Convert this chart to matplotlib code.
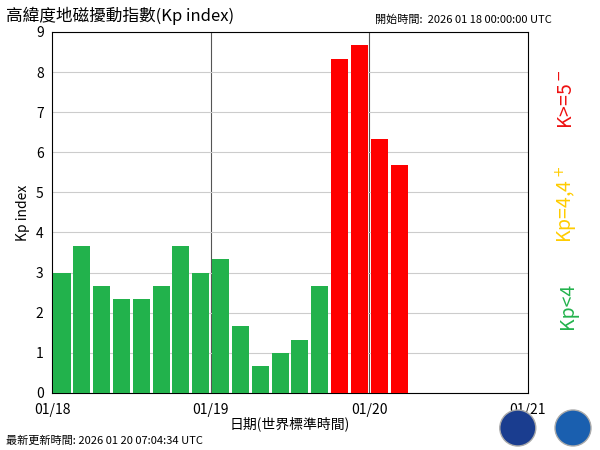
import matplotlib
matplotlib.use("Agg")
import matplotlib.pyplot as plt
from matplotlib.patches import Circle

plt.rcParams['font.family'] = ['Noto Sans CJK TC', 'DejaVu Sans']

kp = [3.0, 3.67, 2.67, 2.33, 2.33, 2.67, 3.67, 3.0,
      3.33, 1.67, 0.67, 1.0, 1.33, 2.67, 8.33, 8.67,
      6.33, 5.67]
day_labels = ['01/18', '01/19', '01/20', '01/21']

def col(v):
    if v >= 4.67:
        return '#ff0000'
    return '#22b24c'

fig = plt.figure(figsize=(6, 4.5), dpi=100)
ax = fig.add_axes([0.0867, 0.127, 0.7933, 0.802])
x = [i * 0.125 + 0.0625 for i in range(len(kp))]
ax.bar(x, kp, width=0.108, color=[col(v) for v in kp], zorder=3)
ax.set_xlim(0, 3)
ax.set_ylim(0, 9)
ax.set_yticks(range(10))
ax.set_xticks([0, 1, 2, 3])
ax.set_xticklabels(day_labels)
ax.tick_params(labelsize=10, length=0)
ax.tick_params(axis='x', pad=7)
ax.tick_params(axis='y', pad=6)
ax.grid(axis='y', color='#cccccc', lw=0.8, zorder=0)
for d in [1, 2]:
    ax.axvline(d, color='#555555', lw=0.8, zorder=1)
ax.set_ylabel('Kp index', fontsize=10)
ax.set_xlabel('日期(世界標準時間)', fontsize=10, labelpad=0)

fig.text(0.01, 0.985, '高緯度地磁擾動指數(Kp index)', fontsize=12, va='top')
fig.text(0.625, 0.968, '開始時間:  2026 01 18 00:00:00 UTC', fontsize=8, va='top')
fig.text(0.01, 0.01, '最新更新時間: 2026 01 20 07:04:34 UTC', fontsize=8, va='bottom')

fig.text(0.945, 0.32, 'Kp<4', color='#22b24c', fontsize=14, rotation=90, ha='center', va='center')
fig.text(0.945, 0.545, 'Kp=4,4$^+$', color='#ffcc00', fontsize=14, rotation=90, ha='center', va='center')
fig.text(0.945, 0.78, 'K>=5$^-$', color='#ee1111', fontsize=14, rotation=90, ha='center', va='center')

for cx, c in [(0.863, '#1a3d8f'), (0.955, '#1a5faf')]:
    fig.patches.append(Circle((cx * 600, 450 - 428), 18, transform=None,
                              facecolor=c, edgecolor='#aaaaaa', lw=1))
fig.savefig('out.png', dpi=100)
